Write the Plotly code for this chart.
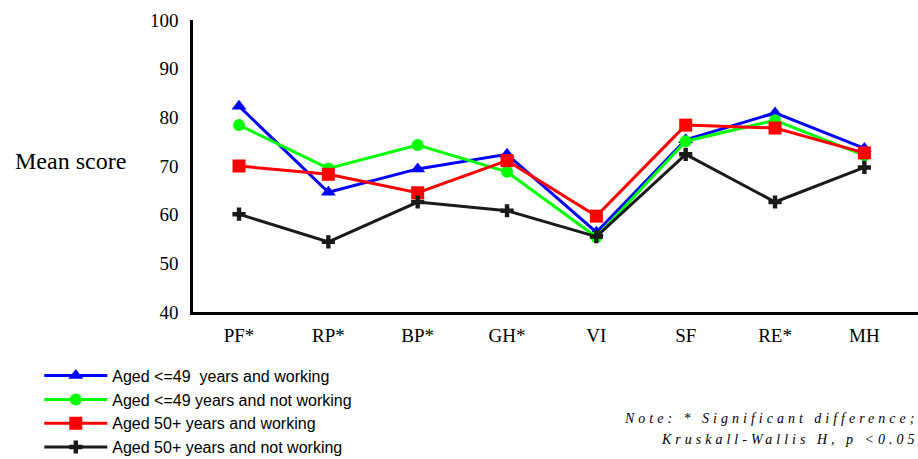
import plotly.graph_objects as go

categories = ["PF*", "RP*", "BP*", "GH*", "VI", "SF", "RE*", "MH"]

young_working = [82.3, 64.6, 69.4, 72.4, 56.4, 75.4, 80.9, 73.6]
young_not_working = [78.4, 69.5, 74.3, 68.8, 55.4, 75.1, 79.4, 72.2]
old_working = [70.0, 68.3, 64.5, 71.1, 59.7, 78.4, 77.8, 72.7]
old_not_working = [60.1, 54.4, 62.6, 60.8, 55.5, 72.4, 62.6, 69.7]

series_names = [
    "Aged <=49  years and working",
    "Aged <=49 years and not working",
    "Aged 50+ years and working",
    "Aged 50+ years and not working",
]

fig = go.Figure()

styles = [
    ("#0000ff", "triangle-up", 13),
    ("#00ff00", "circle", 12),
    ("#ff0000", "square", 13),
    ("#1a1a1a", "cross", 11),
]
for name, vals, (col, sym, sz) in zip(series_names,
                                      [young_working, young_not_working, old_working, old_not_working],
                                      styles):
    fig.add_trace(go.Scatter(x=list(range(len(categories))), y=vals, mode="lines+markers", name=name,
                             line=dict(color=col, width=3),
                             marker=dict(color=col, symbol=sym, size=sz, line=dict(width=0))))

serif = "Liberation Serif, Times New Roman"

fig.update_layout(
    width=918, height=459,
    margin=dict(l=193, r=0, t=20, b=147, autoexpand=False),
    plot_bgcolor="white", paper_bgcolor="white",
    showlegend=True,
    legend=dict(x=-0.212, y=-0.16, xanchor="left", yanchor="top",
                font=dict(family="Liberation Sans, Arial", size=16, color="black"),
                itemwidth=63, tracegroupgap=0, bgcolor="rgba(0,0,0,0)"),
    xaxis=dict(tickmode="array", tickvals=list(range(len(categories))), ticktext=categories,
               range=[-0.515, 7.6], showgrid=False, zeroline=False, automargin=False,
               showline=True, linecolor="black", linewidth=2.5, ticks="", ticklabelstandoff=4,
               tickfont=dict(family=serif, size=19, color="black")),
    yaxis=dict(range=[40, 100], dtick=10, showgrid=False, zeroline=False, automargin=False,
               showline=True, linecolor="black", linewidth=2.5, ticks="", ticklabelstandoff=8,
               tickfont=dict(family=serif, size=19, color="black")),
    annotations=[
        dict(text="Mean score", xref="paper", yref="paper", x=-0.0897, y=0.517,
             xanchor="right", yanchor="middle", showarrow=False,
             font=dict(family=serif, size=24, color="black")),
        dict(text='<span style="letter-spacing:4px"><i>Note: * Significant difference;</i></span>',
             xref="paper", yref="paper", x=0.5917, y=-0.365, xanchor="left", yanchor="middle",
             showarrow=False, font=dict(family=serif, size=14, color="black")),
        dict(text='<span style="letter-spacing:4px"><i>Kruskall-Wallis H, p <0.05</i></span>',
             xref="paper", yref="paper", x=0.643, y=-0.435, xanchor="left", yanchor="middle",
             showarrow=False, font=dict(family=serif, size=14, color="black")),
    ],
)

fig.write_html("out.html", config={"displayModeBar": False},
               post_script="document.body.style.margin='0';")
